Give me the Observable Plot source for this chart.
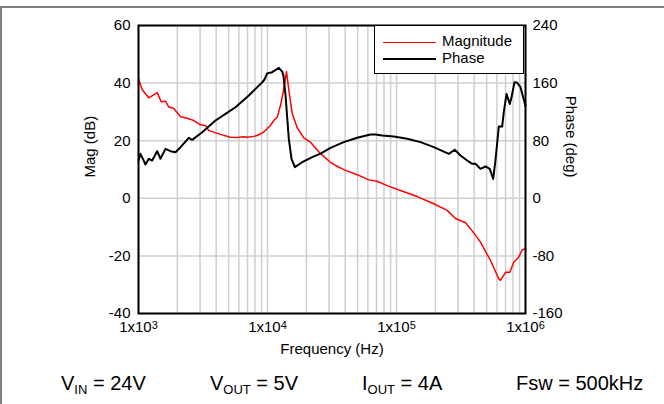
<!DOCTYPE html>
<html>
<head>
<meta charset="utf-8">
<script src="https://cdn.jsdelivr.net/npm/d3@7"></script>
<script src="https://cdn.jsdelivr.net/npm/@observablehq/plot@0.6"></script>
<style>
  html, body { margin: 0; padding: 0; background: white; }
  body { font-family: "Liberation Sans", Arial, sans-serif; }
  #wrap { position: relative; width: 664px; height: 404px; overflow: hidden; background: white; }
  #topline { position: absolute; left: 0; top: 6px; width: 664px; height: 2px; background: #808080; }
  #leftline { position: absolute; left: 0; top: 6px; width: 2px; height: 398px; background: #808080; }
  #legend { position: absolute; left: 374px; top: 25px; width: 150px; height: 49px; border: 1.5px solid black; background: white; box-sizing: border-box; font-size: 15px; }
  .lg { position: absolute; left: 8px; width: 53px; height: 0; }
  .lt { position: absolute; left: 67px; line-height: 16px; }
  #caption { position: absolute; top: 372px; left: 0; width: 664px; height: 30px; font-size: 20px; }
  #caption span.c { position: absolute; top: 0; white-space: nowrap; }
  #caption sub { font-size: 13px; vertical-align: -4px; line-height: 0; }
</style>
</head>
<body>
<div id="wrap">
  <div id="chart"></div>
  <div id="topline"></div>
  <div id="leftline"></div>
  <div id="legend">
    <div class="lg" style="top:16px;border-top:1.5px solid #ff0000"></div>
    <div class="lt" style="top:7px">Magnitude</div>
    <div class="lg" style="top:32px;border-top:2px solid black"></div>
    <div class="lt" style="top:24px">Phase</div>
  </div>
  <div id="caption">
    <span class="c" style="left:61px">V<sub>IN</sub> = 24V</span>
    <span class="c" style="left:210px">V<sub>OUT</sub> = 5V</span>
    <span class="c" style="left:362px">I<sub>OUT</sub> = 4A</span>
    <span class="c" style="left:516px">Fsw = 500kHz</span>
  </div>
</div>
<script>
// Magnitude (dB) vs frequency (Hz)
const magFreq = [1000,1068,1202,1396,1500,1619,1718,1878,2117,2386,2683,3025,3306,3508,4322,5164,5821,6551,6964,7834,8322,9357,10550,11190,11890,12610,13370,14030,14630,15530,16990,19110,21540,25750,30780,33650,40270,49590,60970,70800,84660,107300,144600,194500,247000,286600,342800,397400,447700,535600,621000,640100,699800,755300,810900,887100,942400,1000000];
const magDb = [41.5,37.7,34.9,36.7,33.5,33.7,31.7,31.2,28.3,27.8,27,25.5,25.3,23.5,22.2,21.2,21.1,21.4,21.2,21.5,21.8,23,25.3,27,28.2,32.2,38,44,37.7,29.5,24.5,21,19.5,15.5,12.5,11.4,9.7,8.2,6.4,5.9,4.4,2.7,0.6,-1.9,-4.2,-7,-8.5,-12,-15.2,-21.6,-28,-28.5,-25.7,-25.7,-22.2,-20.4,-17.9,-17.5];

// Phase (deg) vs frequency (Hz)
const phFreq = [1000,1036,1133,1202,1277,1396,1480,1619,1770,1935,2117,2454,2607,3117,3953,4724,5648,7163,8072,9096,9480,9950,10870,12240,13000,13300,13800,14630,15350,16290,18580,22220,25750,30780,39000,49590,62850,68730,77450,95270,121000,153500,194500,254300,283000,313400,353200,386300,409600,447700,489700,528400,561900,584800,621000,659300,678800,712800,755300,778300,821800,862900,914500,982300,1000000];
const phDeg = [52.5,61.8,47,54.9,52.5,65.4,54.9,68.7,65.4,64,71,84,81.2,91.8,108,117.3,126.5,142.8,152,161,165,173.5,175.2,181.2,176,170,142.8,82.6,54.9,43.2,50.1,57.1,62,70,78,84,88.6,88.6,87.2,85.8,82.6,78,71,61.8,67.4,59.4,52.5,47.9,48,40.9,44.2,40.9,27,52.5,99.7,99.7,119.6,145,131,140,161.3,160.4,154.3,133.5,128];

// Axes
const xTicks = [1e3, 1e4, 1e5, 1e6];
const magTicks = [-40, -20, 0, 20, 40, 60];
const phaseTicks = [-160, -80, 0, 80, 160, 240];
const phaseToDb = 60 / 240; // right axis maps 240 deg to 60 dB

const magData = magFreq.map((f, i) => ({f, v: magDb[i]}));
const phData = phFreq.map((f, i) => ({f, v: phDeg[i]}));
const minorX = [];
for (let e = 3; e < 6; e++) for (let m = 1; m <= 9; m++) minorX.push(m * 10 ** e);
minorX.push(1e6);

const chart = Plot.plot({
  width: 664,
  height: 372,
  marginLeft: 138,
  marginRight: 139,
  marginTop: 25,
  marginBottom: 59,
  x: {type: "log", domain: [1e3, 1e6]},
  y: {domain: [-40, 60]},
  style: {fontFamily: "'Liberation Sans', Arial, sans-serif", fontSize: "15px", color: "black", background: "white", overflow: "visible"},
  marks: [
    Plot.ruleX(minorX, {stroke: "#cfcfcf", strokeWidth: 1.5}),
    Plot.ruleY(magTicks, {stroke: "#cfcfcf", strokeWidth: 1.5}),
    Plot.line(magData, {x: "f", y: "v", stroke: "#ff0000", strokeWidth: 1.5}),
    Plot.line(phData, {x: "f", y: d => d.v * phaseToDb, stroke: "black", strokeWidth: 2}),
    Plot.frame({stroke: "black", strokeWidth: 2}),
    Plot.axisY(magTicks, {anchor: "left", tickSize: 0, tickPadding: 8, tickFormat: d => String(d), label: null, fontSize: 15}),
    Plot.axisY(phaseTicks.map(d => d * phaseToDb), {anchor: "right", tickSize: 0, tickPadding: 7, tickFormat: d => String(Math.round(d / phaseToDb)), label: null, fontSize: 15}),
    Plot.axisX(xTicks, {anchor: "bottom", tickSize: 0, tickPadding: 8, tickFormat: d => "1x10^" + Math.round(Math.log10(d)), label: null, fontSize: 15}),
    Plot.text(["Mag (dB)"], {frameAnchor: "left", dx: -48, dy: 8, rotate: -90, fontSize: 15}),
    Plot.text(["Phase (deg)"], {frameAnchor: "right", dx: 45, dy: 8, rotate: 90, fontSize: 15}),
    Plot.text(["Frequency (Hz)"], {frameAnchor: "bottom", dy: 40, fontSize: 15})
  ]
});

// superscript exponents in x tick labels
d3.select(chart).selectAll('g[aria-label="x-axis tick label"] text').each(function() {
  const t = this.textContent;
  const parts = t.split("^");
  if (parts.length === 2) {
    const sel = d3.select(this);
    sel.text(parts[0]);
    sel.append("tspan").attr("dy", "-0.3em").attr("font-size", 11).text(parts[1]);
  }
});

document.getElementById("chart").appendChild(chart);
</script>
</body>
</html>
